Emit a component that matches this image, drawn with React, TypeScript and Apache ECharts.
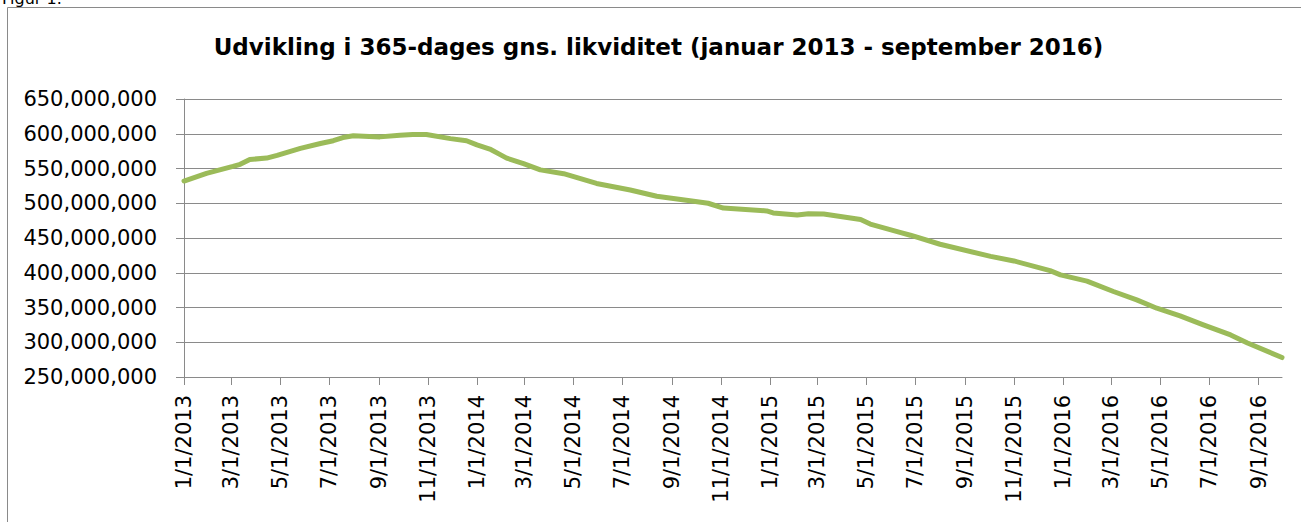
import React, { useEffect, useRef } from "react";
import * as echarts from "echarts";

const TITLE = "Udvikling i 365-dages gns. likviditet (januar 2013 - september 2016)";
const FIG_LABEL = "Figur 1.";

const dates: string[] = [
  "2013-01-01", "2013-01-29", "2013-03-03", "2013-03-12", "2013-03-24", "2013-04-14",
  "2013-04-27", "2013-05-26", "2013-06-20", "2013-07-06", "2013-07-18", "2013-07-31",
  "2013-09-02", "2013-09-27", "2013-10-13", "2013-10-30", "2013-11-29", "2013-12-19",
  "2014-01-01", "2014-01-17", "2014-01-30", "2014-02-07", "2014-02-28", "2014-03-21",
  "2014-04-19", "2014-05-30", "2014-07-11", "2014-08-13", "2014-09-28", "2014-10-16",
  "2014-11-04", "2014-12-28", "2015-01-05", "2015-02-04", "2015-02-18", "2015-03-09",
  "2015-04-24", "2015-05-06", "2015-06-12", "2015-06-25", "2015-08-01", "2015-10-03",
  "2015-11-01", "2015-12-16", "2015-12-29", "2016-01-31", "2016-03-04", "2016-04-02",
  "2016-04-27", "2016-05-26", "2016-06-24", "2016-07-28", "2016-08-18", "2016-09-30",
];

const values: number[] = [
  532e6, 543e6, 553e6, 556e6, 563e6, 565e6,
  569e6, 579e6, 586e6, 590e6, 594.6e6, 597e6,
  595.5e6, 598e6, 599e6, 599e6, 593e6, 590e6,
  584e6, 578e6, 570e6, 565e6, 557e6, 548e6,
  542.5e6, 528.5e6, 519e6, 510e6, 503e6, 500e6,
  493e6, 489e6, 486e6, 483e6, 485e6, 484.5e6,
  476.5e6, 470e6, 458e6, 454e6, 441e6, 423.5e6,
  417e6, 403e6, 397e6, 388e6, 373e6, 361e6,
  349e6, 338e6, 325e6, 310.5e6, 299e6, 278e6,
];

const tickDates: string[] = [
  "2013-01-01", "2013-03-01", "2013-05-01", "2013-07-01", "2013-09-01", "2013-11-01",
  "2014-01-01", "2014-03-01", "2014-05-01", "2014-07-01", "2014-09-01", "2014-11-01",
  "2015-01-01", "2015-03-01", "2015-05-01", "2015-07-01", "2015-09-01", "2015-11-01",
  "2016-01-01", "2016-03-01", "2016-05-01", "2016-07-01", "2016-09-01",
];

const X_MIN = "2013-01-01";
const X_MAX = "2016-09-30";
const Y_MIN = 250000000;
const Y_MAX = 650000000;
const Y_STEP = 50000000;

const toTs = (s: string) => {
  const [y, m, d] = s.split("-").map(Number);
  return new Date(y, m - 1, d).getTime();
};

export default function App() {
  const ref = useRef<HTMLDivElement>(null);
  useEffect(() => {
    if (!ref.current) return;
    const chart = echarts.init(ref.current, null, { renderer: "svg" });
    const gray = "#8a8a8a";
    const font = "DejaVu Sans";
    const tickVals = tickDates.map(toTs);
    chart.setOption({
      animation: false,
      backgroundColor: "#ffffff",
      grid: { left: 184, right: 19, top: 99, bottom: 145, containLabel: false },
      xAxis: {
        type: "value",
        min: toTs(X_MIN),
        max: toTs(X_MAX),
        axisLine: { show: true, lineStyle: { color: gray, width: 1 } },
        axisTick: { show: true, length: 8, lineStyle: { color: gray }, customValues: tickVals },
        splitLine: { show: false },
        axisLabel: {
          customValues: tickVals,
          rotate: 90,
          margin: 18,
          fontFamily: font,
          fontSize: 21,
          color: "#000",
          hideOverlap: false,
          showMinLabel: true,
          showMaxLabel: true,
          formatter: (v: number) => {
            const d = new Date(v);
            return `${d.getMonth() + 1}/${d.getDate()}/${d.getFullYear()}`;
          },
        },
      },
      yAxis: {
        type: "value",
        min: Y_MIN,
        max: Y_MAX,
        interval: Y_STEP,
        axisLine: { show: true, lineStyle: { color: gray, width: 1 } },
        axisTick: { show: true, length: 8, lineStyle: { color: gray } },
        splitLine: { show: true, lineStyle: { color: gray, width: 1 } },
        axisLabel: {
          margin: 27,
          fontFamily: font,
          fontSize: 21,
          color: "#000",
          formatter: (v: number) => v.toLocaleString("en-US"),
        },
      },
      series: [
        {
          type: "line",
          data: dates.map((d, i) => [toTs(d), values[i]]),
          showSymbol: false,
          symbol: "none",
          lineStyle: { color: "#9bbb59", width: 5, join: "round", cap: "round" },
          smooth: false,
        },
      ],
      graphic: [
        {
          type: "rect",
          shape: { x: 7.5, y: 7.5, width: 1400, height: 600 },
          style: { fill: "none", stroke: gray, lineWidth: 1 },
          silent: true,
          z: -1,
        },
        {
          type: "text",
          x: 2,
          y: 6,
          style: {
            text: FIG_LABEL,
            font: `16px ${font}`,
            fill: "#000",
            textAlign: "left",
            textVerticalAlign: "bottom",
          },
        },
        {
          type: "text",
          x: 658.5,
          y: 47,
          style: {
            text: TITLE,
            font: `bold 23px ${font}`,
            fill: "#000",
            textAlign: "center",
            textVerticalAlign: "middle",
          },
        },
      ],
    });
    return () => chart.dispose();
  }, []);
  return (
    <div
      ref={ref}
      style={{ position: "fixed", left: 0, top: 0, width: 1301, height: 522, background: "#fff" }}
    />
  );
}
